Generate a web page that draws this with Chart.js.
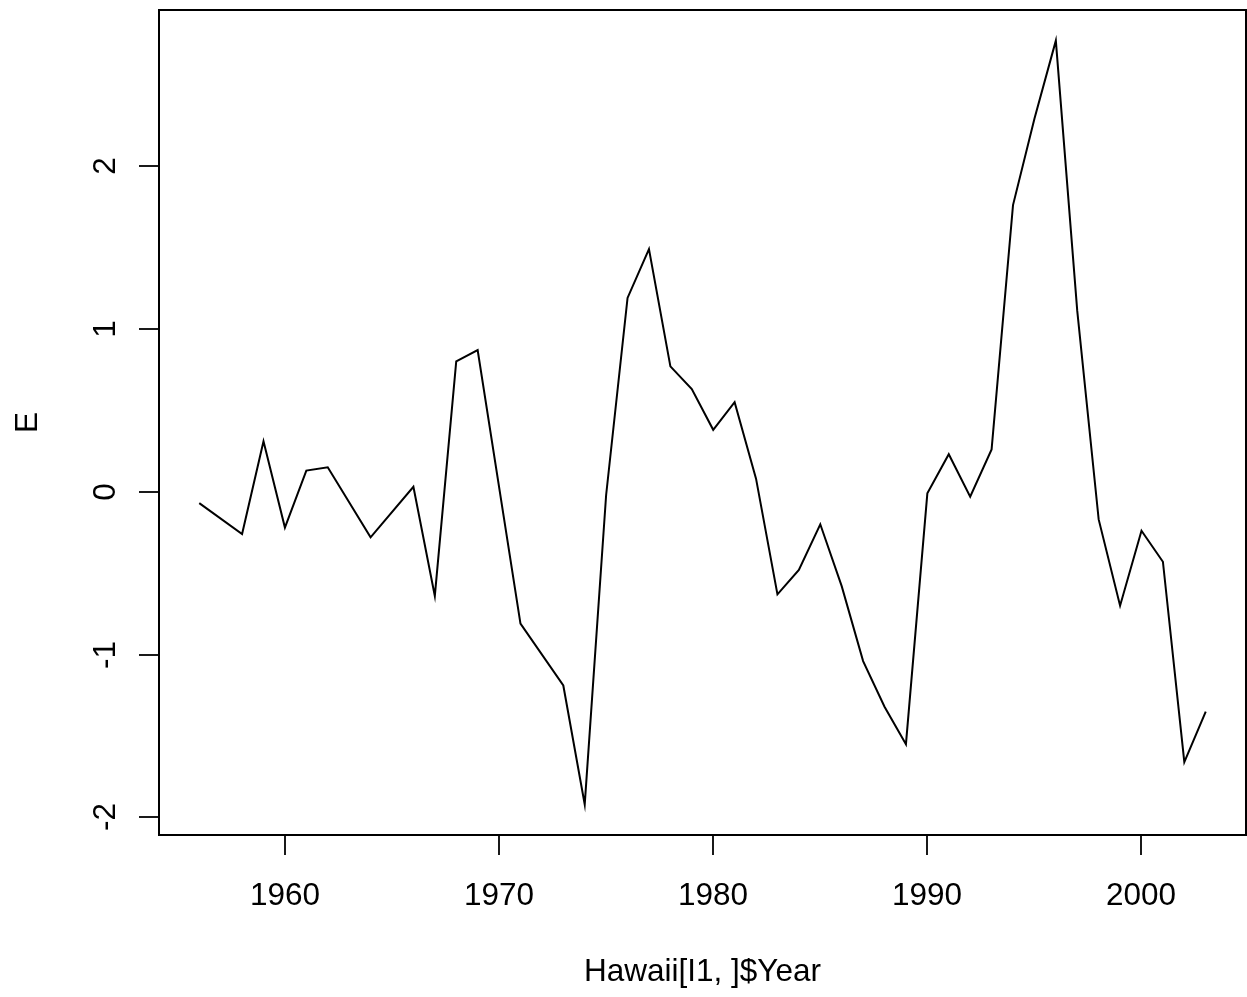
<!DOCTYPE html>
<html>
<head>
<meta charset="utf-8">
<script src="https://cdn.jsdelivr.net/npm/chart.js@4/dist/chart.umd.min.js"></script>
<style>
  html, body { margin: 0; padding: 0; background: #fff; }
  canvas { display: block; }
</style>
</head>
<body>
<canvas id="myChart" width="1247" height="997"></canvas>
<script>
// years with an observation (gaps are simply joined by the line)
const years = [1956, 1958, 1959, 1960, 1961, 1962, 1964, 1966, 1967, 1968, 1969,
  1971, 1973, 1974, 1975, 1976, 1977, 1978, 1979, 1980, 1981, 1982, 1983, 1984,
  1985, 1986, 1987, 1988, 1989, 1990, 1991, 1992, 1993, 1994, 1995, 1996, 1997,
  1998, 1999, 2000, 2001, 2002, 2003];
const eValues = [-0.07, -0.26, 0.31, -0.22, 0.13, 0.15, -0.28, 0.03, -0.64, 0.80, 0.87,
  -0.81, -1.19, -1.92, -0.02, 1.19, 1.49, 0.77, 0.63, 0.38, 0.55, 0.08, -0.63, -0.48,
  -0.20, -0.58, -1.04, -1.32, -1.55, -0.01, 0.23, -0.03, 0.26, 1.76, 2.29, 2.77, 1.11,
  -0.17, -0.70, -0.24, -0.43, -1.66, -1.35];

const xTicks = [1960, 1970, 1980, 1990, 2000];
const yTicks = [-2, -1, 0, 1, 2];
const xTitle = 'Hawaii[I1, ]$Year';
const yTitle = 'E';

const font = '31.5px "Liberation Sans", Arial, Helvetica, sans-serif';

// R-style frame, ticks and labels
const baseAxes = {
  id: 'baseAxes',
  afterDraw(chart) {
    const { ctx, chartArea: a, scales: { x, y } } = chart;
    ctx.save();
    ctx.strokeStyle = '#000';
    ctx.fillStyle = '#000';
    ctx.lineWidth = 2;
    ctx.strokeRect(a.left, a.top, a.right - a.left, a.bottom - a.top);

    ctx.font = font;
    ctx.textAlign = 'center';
    ctx.textBaseline = 'alphabetic';

    ctx.lineWidth = 1.8;
    xTicks.forEach(v => {
      const px = Math.round(x.getPixelForValue(v));
      ctx.beginPath();
      ctx.moveTo(px, a.bottom);
      ctx.lineTo(px, a.bottom + 20);
      ctx.stroke();
      ctx.fillText(String(v), px, a.bottom + 70);
    });

    yTicks.forEach(v => {
      const py = Math.round(y.getPixelForValue(v));
      ctx.beginPath();
      ctx.moveTo(a.left, py);
      ctx.lineTo(a.left - 20, py);
      ctx.stroke();
      ctx.save();
      ctx.translate(a.left - 44, py);
      ctx.rotate(-Math.PI / 2);
      ctx.fillText(String(v), 0, 0);
      ctx.restore();
    });

    ctx.fillText(xTitle, (a.left + a.right) / 2, a.bottom + 146);

    ctx.save();
    ctx.translate(37, (a.top + a.bottom) / 2);
    ctx.rotate(-Math.PI / 2);
    ctx.fillText(yTitle, 0, 0);
    ctx.restore();

    ctx.restore();
  }
};

const ctx = document.getElementById('myChart');
const myChart = new Chart(ctx, {
  type: 'line',
  data: {
    datasets: [{
      label: 'E',
      data: years.map((yr, i) => ({ x: yr, y: eValues[i] })),
      borderColor: '#000',
      borderWidth: 2,
      pointRadius: 0,
      tension: 0,
      fill: false,
    }],
  },
  options: {
    responsive: false,
    animation: false,
    devicePixelRatio: 1,
    layout: {
      padding: { left: 159, right: 1, top: 10, bottom: 162 },
    },
    plugins: {
      legend: { display: false },
      tooltip: { enabled: false },
    },
    scales: {
      x: { type: 'linear', display: false, min: 1954.12, max: 2004.88 },
      y: { type: 'linear', display: false, min: -2.108, max: 2.958 },
    },
  },
  plugins: [baseAxes],
});
</script>
</body>
</html>
